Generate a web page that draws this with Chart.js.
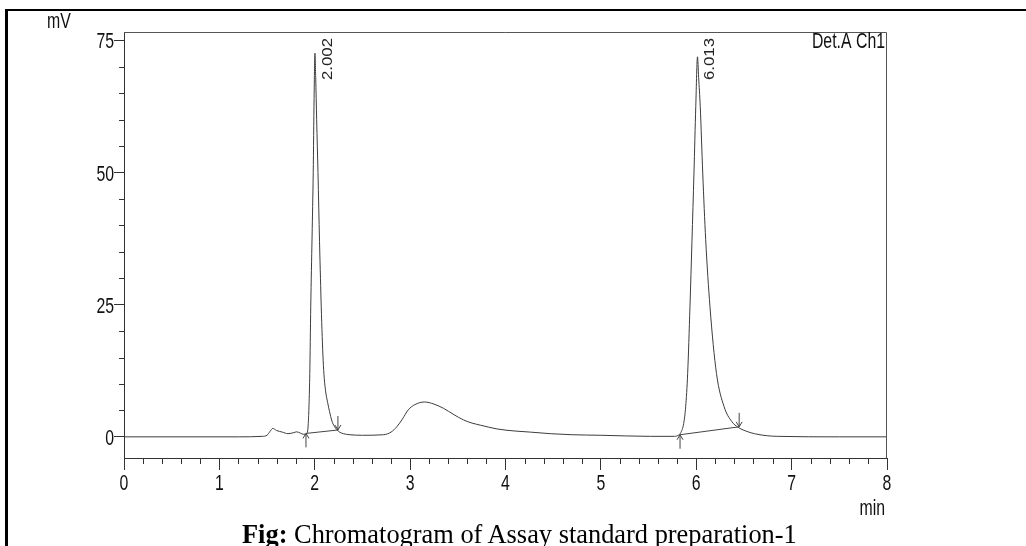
<!DOCTYPE html>
<html><head><meta charset="utf-8">
<script src="https://cdn.jsdelivr.net/npm/chart.js@4"></script>
<style>
html,body{margin:0;padding:0;background:#fff;}
#wrap{position:relative;width:1026px;height:546px;overflow:hidden;background:#fff;}
canvas{position:absolute;left:0;top:0;}
.frameTop{position:absolute;left:5px;top:9px;width:1021px;height:2px;background:#000;}
.frameLeft{position:absolute;left:5px;top:9px;width:3px;height:537px;background:#000;}
#caption{position:absolute;left:242px;top:521px;font-family:'Liberation Serif','Times New Roman',serif;font-size:26.4px;line-height:26px;color:#000;white-space:nowrap;}
</style></head>
<body>
<div id="wrap">
<canvas id="c" width="1026" height="546"></canvas>
<div class="frameTop"></div><div class="frameLeft"></div>
<div id="caption"><b>Fig:</b> Chromatogram of Assay standard preparation-1</div>
</div>
<script>
// ---- data (retention time in min, detector signal in mV) ----
const time = [0.00,1.20,1.45,1.50,1.53,1.56,1.60,1.66,1.72,1.78,1.81,1.85,1.88,1.905,
  1.915,1.932,1.948,1.958,1.972,1.984,1.993,2.002,2.010,2.020,2.034,2.050,2.060,2.068,2.078,2.088,2.100,2.115,2.135,2.155,2.180,2.205,2.230,2.26,2.30,
  2.37,2.50,2.72,2.80,2.86,2.92,2.98,3.05,3.15,3.25,3.35,3.45,3.56,3.65,3.74,3.91,4.10,4.26,4.47,4.70,5.00,5.52,5.77,
  5.82,5.838,5.868,5.889,5.910,5.934,5.955,5.976,5.995,6.013,6.025,6.042,6.068,6.099,6.144,6.212,6.292,6.372,6.44,6.52,6.61,6.75,6.85,7.50,8.00];
const signal = [0.0,0.0,0.1,0.3,1.0,1.6,1.2,0.9,0.6,0.8,0.95,0.7,0.5,0.5,
  0.6,2.5,12,24.6,38,50,64,72.6,68,60,50,37,30,24.6,19,14.5,11,8.5,6.5,4.8,3.0,2.0,1.4,0.9,0.6,
  0.4,0.3,0.4,0.9,1.9,3.4,5.1,6.1,6.6,6.2,5.4,4.3,3.2,2.6,2.2,1.5,1.1,0.9,0.6,0.4,0.3,0.1,0.1,
  0.4,0.8,2.5,5.7,12,24.6,37,49.9,62.5,71.9,68,62.5,49.9,37.3,24.6,12,5.7,2.9,1.8,1.1,0.6,0.2,0.1,0.0,0.0];
const peakTimes  = [2.002, 6.013];
const peakLabels = ['2.002', '6.013'];
const baseStartT = [1.908, 5.83];
const baseStartV = [0.65, 0.4];
const baseEndT   = [2.243, 6.45];
const baseEndV   = [1.3, 1.9];
const xMin = 0, xMax = 8, xStep = 1, xMinorStep = 0.2;
const yMin = -4, yMax = 76.6, yStep = 25, yMinorStep = 5;
const yUnit = 'mV', xUnit = 'min', channelLabel = 'Det.A Ch1';

const SANS = "'Liberation Sans',Arial,sans-serif";
const SQUEEZE = 0.72;

function squeezedText(ctx, text, x, y, align) {
  ctx.save();
  ctx.translate(x, y);
  ctx.scale(SQUEEZE, 1);
  ctx.textAlign = align;
  ctx.textBaseline = 'alphabetic';
  ctx.fillText(text, 0, 0);
  ctx.restore();
}

const decor = {
  id: 'decor',
  afterDraw(chart) {
    const {ctx, chartArea: a, scales: {x, y}} = chart;
    ctx.save();
    // plot frame (top & right)
    ctx.strokeStyle = '#555'; ctx.lineWidth = 1;
    ctx.beginPath();
    ctx.moveTo(a.left, a.top + 0.5); ctx.lineTo(a.right - 0.5, a.top + 0.5); ctx.lineTo(a.right - 0.5, a.bottom);
    ctx.stroke();
    // minor ticks
    ctx.strokeStyle = '#333';
    ctx.beginPath();
    const ratioX = Math.round(xStep / xMinorStep);
    for (let k = Math.ceil(x.min / xMinorStep); k * xMinorStep <= x.max + 1e-9; k++) {
      if (k % ratioX === 0) continue;
      const px = Math.round(x.getPixelForValue(k * xMinorStep)) + 0.5;
      ctx.moveTo(px, a.bottom); ctx.lineTo(px, a.bottom + 6);
    }
    const ratioY = Math.round(yStep / yMinorStep);
    for (let k = Math.ceil(y.min / yMinorStep); k * yMinorStep <= y.max + 1e-9; k++) {
      if (k % ratioY === 0) continue;
      const py = Math.round(y.getPixelForValue(k * yMinorStep)) + 0.5;
      ctx.moveTo(a.left, py); ctx.lineTo(a.left - 5, py);
    }
    ctx.stroke();
    // integration baselines + arrows
    ctx.strokeStyle = '#444';
    for (let i = 0; i < baseStartT.length; i++) {
      const x0 = x.getPixelForValue(baseStartT[i]), y0 = y.getPixelForValue(baseStartV[i]);
      const x1 = x.getPixelForValue(baseEndT[i]), y1 = y.getPixelForValue(baseEndV[i]);
      ctx.beginPath();
      ctx.moveTo(x0, y0); ctx.lineTo(x1, y1);
      ctx.moveTo(x0, y0 + 14); ctx.lineTo(x0, y0);
      ctx.moveTo(x0 - 3, y0 + 5); ctx.lineTo(x0, y0); ctx.lineTo(x0 + 3, y0 + 5);
      ctx.moveTo(x1, y1 - 14); ctx.lineTo(x1, y1);
      ctx.moveTo(x1 - 3, y1 - 5); ctx.lineTo(x1, y1); ctx.lineTo(x1 + 3, y1 - 5);
      ctx.stroke();
    }
    // peak labels (rotated)
    ctx.fillStyle = '#222';
    ctx.font = '14px ' + SANS;
    ctx.textAlign = 'left'; ctx.textBaseline = 'alphabetic';
    for (let i = 0; i < peakTimes.length; i++) {
      const px = x.getPixelForValue(peakTimes[i]);
      ctx.save();
      ctx.translate(px + 17, a.top + 48);
      ctx.rotate(-Math.PI / 2);
      ctx.scale(1.2, 1);
      ctx.fillText(peakLabels[i], 0, 0);
      ctx.restore();
    }
    // tick labels from the scales' own ticks
    ctx.font = '22px ' + SANS;
    ctx.fillStyle = '#111';
    x.ticks.forEach(t => {
      squeezedText(ctx, t.label !== undefined ? String(t.label) : String(t.value), x.getPixelForValue(t.value), a.bottom + 32, 'center');
    });
    y.ticks.forEach(t => {
      squeezedText(ctx, t.label !== undefined ? String(t.label) : String(t.value), a.left - 10, y.getPixelForValue(t.value) + 8, 'right');
    });
    // unit / channel texts
    squeezedText(ctx, yUnit, a.left - 65, a.top - 4, 'center');
    squeezedText(ctx, channelLabel, a.right - 2, a.top + 16, 'right');
    squeezedText(ctx, xUnit, a.right - 2, a.bottom + 57, 'right');
    ctx.restore();
  }
};

new Chart(document.getElementById('c'), {
  type: 'line',
  data: {
    datasets: [{
      data: time.map((t, i) => ({x: t, y: signal[i]})),
      borderColor: '#3c3c3c', borderWidth: 1, pointRadius: 0,
      cubicInterpolationMode: 'monotone', fill: false
    }]
  },
  options: {
    responsive: false, animation: false, devicePixelRatio: 1,
    layout: {padding: {left: 0, top: 32, right: 139, bottom: 0}},
    plugins: {legend: {display: false}, tooltip: {enabled: false}},
    scales: {
      x: {
        type: 'linear', min: xMin, max: xMax,
        grid: {drawOnChartArea: false, drawTicks: true, tickLength: 12, color: '#333'},
        border: {display: true, color: '#333'},
        ticks: {display: false, stepSize: xStep, autoSkip: false, maxRotation: 0},
        afterFit(s) { s.height = 88; s.paddingLeft = 0; s.paddingRight = 0; }
      },
      y: {
        type: 'linear', min: yMin, max: yMax,
        grid: {drawOnChartArea: false, drawTicks: true, tickLength: 10, color: '#333'},
        border: {display: true, color: '#333'},
        ticks: {display: false, stepSize: yStep, includeBounds: false},
        afterFit(s) { s.width = 124; s.paddingTop = 0; s.paddingBottom = 0; }
      }
    }
  },
  plugins: [decor]
});
</script>
</body></html>
